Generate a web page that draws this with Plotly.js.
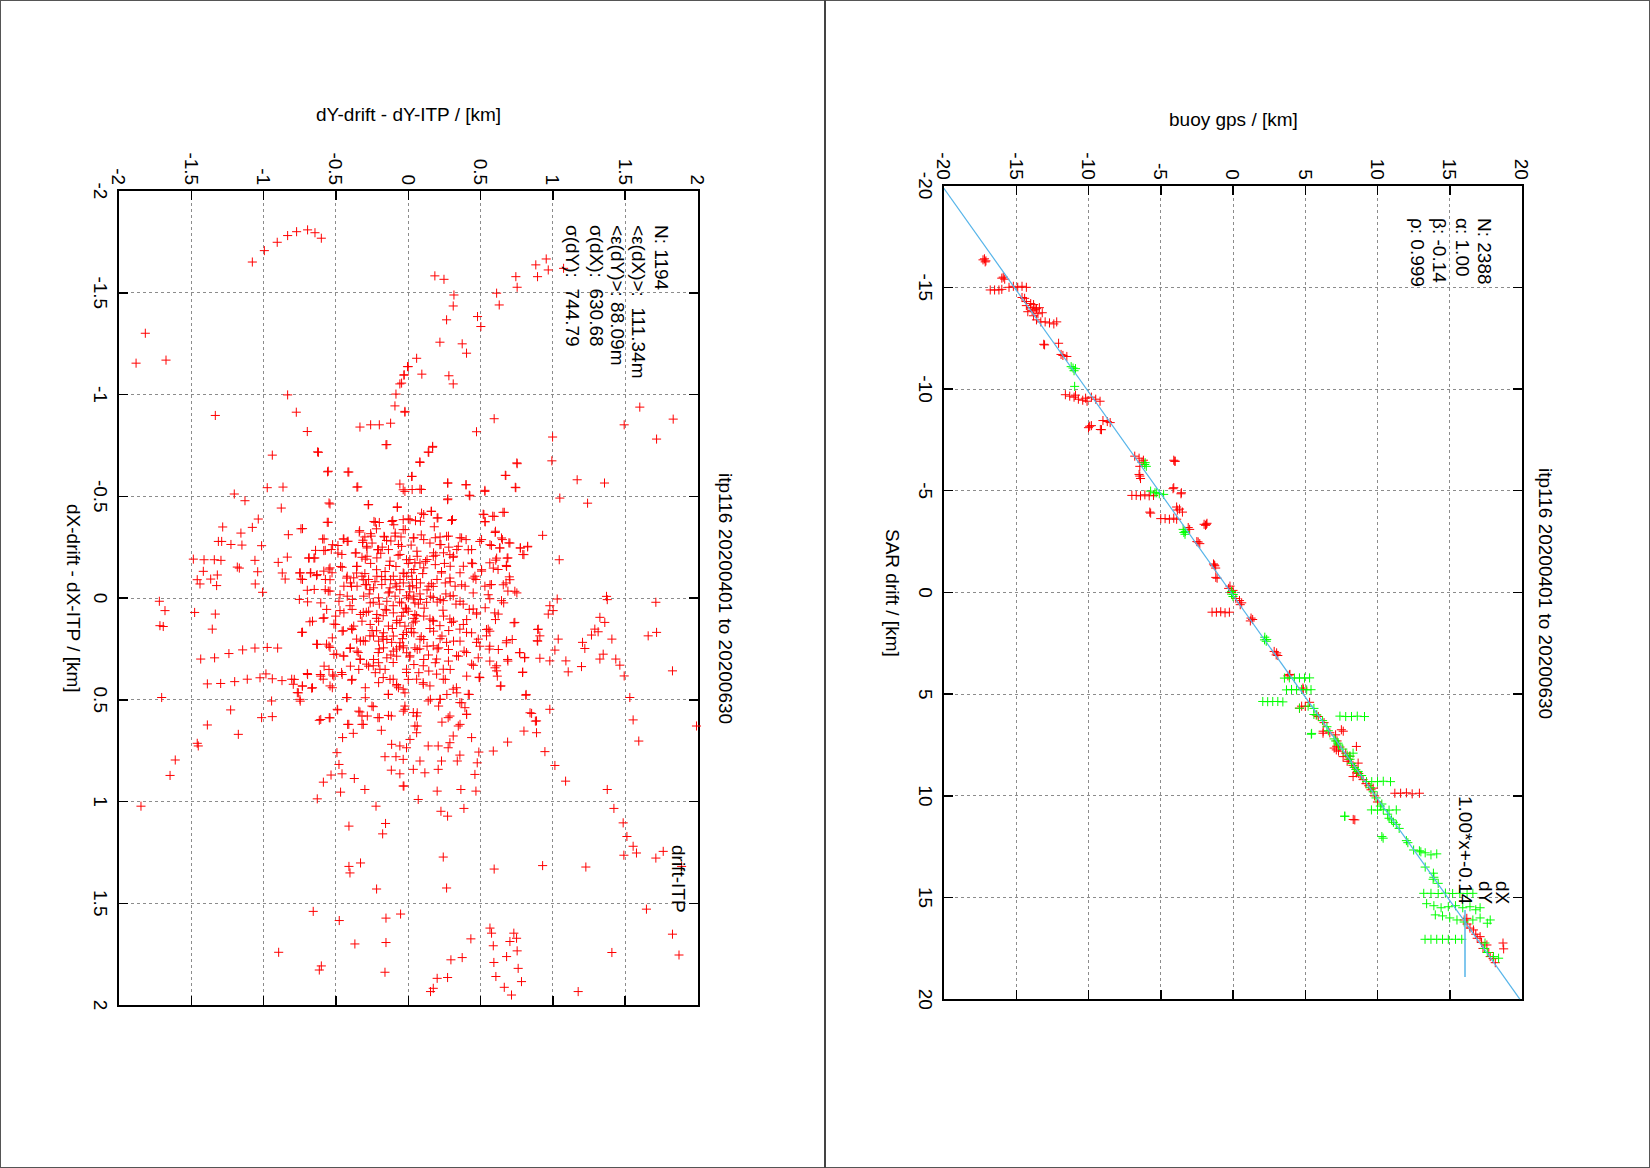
<!DOCTYPE html>
<html><head><meta charset="utf-8">
<script src="https://cdn.plot.ly/plotly-3.0.1.min.js"></script>
<style>
html,body{margin:0;padding:0;background:#fff;width:1650px;height:1168px;overflow:hidden;}
#chart{position:absolute;left:0;top:0;width:1168px;height:1650px;transform-origin:0 0;transform:translate(1650px,0) rotate(90deg);}
</style></head><body><div id="chart"></div>
<script>
// ---------- texts ----------
const chartTitle = 'itp116 20200401 to 20200630';
const fitXLabel = 'SAR drift / [km]';
const fitYLabel = 'buoy gps / [km]';
const errXLabel = 'dX-drift - dX-ITP / [km]';
const errYLabel = 'dY-drift - dY-ITP / [km]';
const fitStats = ['N: 2388', 'α: 1.00', 'β: -0.14', 'ρ: 0.999'];
const errStats = ['N: 1194', '&lt;ε(dX)&gt;:\u00a0\u00a0111.34m', '&lt;ε(dY)&gt;: 88.09m', 'σ(dX):\u00a0\u00a0630.68', 'σ(dY):\u00a0\u00a0744.79'];
const fitLegend = ['dX', 'dY', '1.00*x+-0.14'];
const errLegend = 'drift-ITP';

// ---------- ticks ----------
const sarTicks = [-20, -15, -10, -5, 0, 5, 10, 15, 20];
const sarTickText = ['-20', '-15', '-10', '-5', '0', '5', '10', '15', '20'];
const errTicks = [-2, -1.5, -1, -0.5, 0, 0.5, 1, 1.5, 2];
const errTickText = ['-2', '-1.5', '-1', '-0.5', '0', '0.5', '1', '1.5', '2'];

// ---------- fit ----------
const fitAlpha = 1.00;
const fitBeta = -0.14;
const fitXRange = [-20, 20];

// ---------- right panel data: [SAR drift, buoy gps] ----------
const dXPts = [
[-16.4,-17.2],[-16.3,-17.1],[-16.35,-17.3],[-16.25,-17.15],
[-15.5,-15.9],[-15.4,-15.8],[-15.45,-16.0],
[-14.87,-16.8],[-14.87,-16.5],[-14.87,-16.2],[-14.9,-16.0],
[-15.0,-15.5],[-15.05,-15.2],[-15.0,-14.9],[-15.05,-14.6],[-15.0,-14.3],
[-14.46,-14.42],[-14.5,-14.6],[-14.3,-14.3],
[-14.1,-14.3],[-14.0,-14.0],[-13.9,-13.7],[-13.8,-14.2],[-13.7,-13.5],[-14.0,-13.4],[-13.85,-13.9],[-13.75,-13.2],
[-14.2,-14.0],[-13.95,-13.6],[-13.6,-13.8],[-14.15,-13.8],
[-13.4,-13.6],[-13.3,-13.3],[-13.3,-13.0],[-13.25,-12.7],[-13.2,-12.4],[-13.3,-12.2],
[-12.17,-13.04],[-12.2,-13.1],[-12.25,-12.07],
[-11.65,-11.77],[-11.6,-11.5],[-11.7,-11.9],
[-9.72,-11.6],[-9.65,-11.3],[-9.6,-11.0],[-9.5,-10.7],[-9.45,-10.4],[-9.4,-10.1],[-9.6,-9.8],[-9.5,-9.5],[-9.4,-9.2],[-9.7,-10.9],[-9.55,-10.2],
[-8.17,-9.92],[-8.2,-9.8],[-8.1,-10.0],[-8.01,-9.18],[-8.0,-9.1],
[-8.45,-9.0],[-8.4,-8.7],[-8.35,-8.5],
[-6.7,-6.8],[-6.6,-6.5],[-6.4,-6.3],[-6.2,-6.45],[-6.5,-6.2],
[-5.72,-6.45],[-5.6,-6.4],[-5.8,-6.5],
[-6.45,-4.03],[-6.45,-4.0],[-6.5,-4.1],
[-4.77,-7.0],[-4.77,-6.7],[-4.75,-6.4],[-4.8,-6.1],[-4.75,-5.8],[-4.77,-5.5],
[-5.1,-4.15],[-5.15,-4.1],[-4.9,-3.57],[-4.85,-3.6],
[-4.2,-3.9],[-4.1,-3.7],[-3.95,-3.5],[-4.05,-3.85],
[-3.95,-5.76],[-3.9,-5.7],
[-3.63,-5.0],[-3.63,-4.7],[-3.6,-4.4],[-3.65,-4.1],[-3.6,-3.9],
[-3.35,-1.84],[-3.3,-1.9],[-3.4,-1.8],[-3.35,-2.0],
[-3.19,-3.1],[-3.1,-3.0],
[-2.48,-2.41],[-2.5,-2.5],[-2.4,-2.3],
[-1.31,-1.26],[-1.35,-1.3],[-1.2,-1.2],[-1.4,-1.35],
[-0.74,-1.19],[-0.7,-1.1],
[-0.31,-0.21],[-0.2,-0.3],
[0.51,0.6],[0.4,0.45],[0.6,0.5],[0.3,0.2],[0.0,-0.1],[-0.1,0.0],
[0.97,-1.45],[0.97,-1.15],[0.95,-0.85],[1.0,-0.55],[0.97,-0.25],
[1.33,1.36],[1.26,1.25],[1.4,1.2],
[2.97,3.02],[3.07,2.99],[2.9,2.85],[3.1,3.1],
[4.03,3.94],[4.05,3.91],[4.1,3.8],
[4.7,4.84],[4.77,4.86],
[5.59,4.75],[5.69,4.6],[5.6,5.0],
[6.02,5.76],[6.1,5.9],[5.4,5.3],[6.4,6.3],
[6.75,7.5],[6.82,6.24],[6.92,6.23],[6.82,7.63],[6.9,6.7],[7.0,7.1],
[7.56,7.17],[7.74,7.15],[7.57,8.54],[7.6,7.4],[7.8,7.3],[7.65,7.0],[7.3,7.2],[7.9,7.8],
[8.07,7.62],[8.05,8.09],[8.39,8.66],[8.2,8.0],[8.5,8.3],[8.3,7.9],[8.6,8.4],
[8.87,8.55],[9.05,8.31],[9.0,8.8],[8.8,8.6],[9.2,9.0],[8.9,8.7],[9.4,9.2],
[9.62,9.7],[9.5,9.4],[9.7,9.55],[10.0,9.8],[10.3,10.0],
[9.87,11.2],[9.87,11.6],[9.85,12.0],[9.9,12.4],[9.87,12.9],
[11.18,8.43],[11.16,8.32],
[16.02,16.18],[16.1,16.0],[16.3,16.2],[16.59,16.64],[16.5,16.4],[16.92,17.1],[16.8,16.8],[17.0,16.9],
[17.33,17.57],[17.2,17.2],[17.52,18.73],[18.2,18.15],[17.7,17.7],[17.9,17.8],[18.0,18.0],[17.5,17.3]
];
const dYPts = [
[-11.03,-11.07],[-11.1,-11.2],[-10.9,-11.0],[-11.0,-10.9],
[-10.13,-10.96],
[-6.29,-6.11],[-6.38,-6.08],[-6.2,-6.0],
[-4.98,-5.7],[-4.9,-5.4],[-4.85,-5.1],[-4.82,-4.8],[-4.9,-5.28],
[-3.1,-3.45],[-2.95,-3.4],[-2.86,-3.32],[-3.0,-3.3],
[0.08,-0.1],[0.1,0.02],[-0.05,-0.1],[0.2,0.0],
[2.31,2.33],[2.33,2.18],[2.2,2.2],[2.4,2.3],
[4.21,3.56],[4.2,3.9],[4.21,4.25],[4.2,4.6],[4.21,4.95],[4.2,5.3],
[4.79,3.7],[4.77,4.05],[4.79,4.4],[4.77,4.75],[4.79,5.1],[4.78,5.4],
[5.36,2.06],[5.37,2.4],[5.36,2.75],[5.36,3.1],[5.38,3.45],
[5.59,5.2],[5.69,4.6],[6.02,5.8],[6.0,5.6],[5.7,5.6],
[6.08,7.4],[6.1,7.8],[6.1,8.2],[6.08,8.6],[6.1,9.1],
[6.93,5.44],[6.97,5.42],[6.3,6.2],[6.6,6.5],[6.8,6.6],
[7.41,7.27],[7.3,7.1],[7.2,7.0],[7.7,7.6],[7.5,7.3],
[7.9,8.31],[8.05,8.09],[8.0,7.9],[8.4,8.2],[8.2,8.1],[8.6,8.4],
[8.8,8.66],[8.7,8.5],[9.0,8.9],
[9.3,9.24],[9.3,9.6],[9.3,10.0],[9.28,10.4],[9.3,10.9],[9.6,9.5],[9.8,9.7],
[10.69,9.58],[10.7,10.0],[10.68,10.4],[10.7,10.8],[10.69,11.3],[10.1,9.9],[10.4,10.3],[10.5,10.2],
[11.18,10.97],[11.1,10.8],[11.0,7.73],[11.0,7.74],[10.9,10.7],[11.3,11.1],[11.6,11.5],[11.4,11.3],
[12.08,10.39],[12.0,10.3],[12.3,12.1],[12.2,12.0],
[12.66,12.5],[12.7,12.9],[12.8,13.3],[12.9,13.7],[12.85,14.1],[12.75,13.0],
[13.8,13.87],[14.0,13.9],[14.1,13.85],[13.5,13.3],[14.3,14.2],
[14.79,13.2],[14.79,13.7],[14.8,14.2],[14.78,14.7],[14.8,15.2],[14.79,15.7],[14.8,16.2],[14.79,16.6],
[15.3,13.4],[15.4,13.9],[15.5,14.4],[15.45,14.9],[15.4,15.4],[15.5,15.9],[15.45,16.4],[15.6,16.8],[15.5,17.1],
[15.85,14.0],[15.9,14.5],[16.0,15.0],[16.1,15.5],[16.2,16.0],[16.1,16.6],[16.0,17.1],[16.26,17.6],[16.1,17.8],
[17.05,13.29],[17.05,13.7],[17.05,14.1],[17.05,14.5],[17.05,14.9],[17.05,15.4],[17.05,15.83],
[17.9,18.03],[17.98,18.38],[17.7,17.6],[17.5,17.4]
];

// ---------- left panel data: [dY error, dX error] in km ----------
const errPts = [
[-1.078,-1.651],[-0.995,-1.707],[-0.906,-1.748],[-0.834,-1.781],[-0.772,-1.8],[-0.696,-1.809],[-0.645,-1.795],[-0.601,-1.768],
[-1.818,-1.301],[-1.882,-1.154],[-1.675,-1.169],[-0.834,-0.998],[-1.334,-0.897],[-0.774,-0.913],[-0.698,-0.818],[-0.94,-0.702],
[-0.627,-0.718],[-0.558,-0.62],[-0.417,-0.619],[-0.975,-0.542],[-0.866,-0.545],[-0.355,-0.545],[-1.203,-0.511],[-1.129,-0.478],
[-0.548,-0.467],[-0.277,-0.458],[-0.878,-0.442],[-0.076,-0.445],[-0.058,-0.56],[-0.023,-0.524],[-0.154,-0.753],[-0.122,-0.859],
[-0.334,-0.84],[-0.26,-0.851],[-0.2,-0.851],[-0.023,-0.917],[-0.092,-0.944],[-0.085,-1.002],[-0.058,-1.052],[-0.03,-1.095],[-0.005,-1.137],
[-1.283,-0.349],[-1.037,-0.388],[-1.078,-0.347],[-1.157,-0.319],[-1.313,-0.278],[-1.29,-0.278],[-1.226,-0.263],[-1.15,-0.26],
[-1.014,-0.257],[-0.742,-0.34],[-0.829,-0.311],[-0.56,-0.372],[-0.592,-0.29],[-1.486,-0.191],[-1.412,-0.188],[-1.341,-0.188],
[-1.295,-0.185],[-1.417,-0.131],[-1.32,-0.113],[-1.459,-0.09],[-1.44,-0.069],[-1.366,-0.093],[-1.325,-0.061],[-1.182,-0.152],
[-1.168,-0.147],[-1.06,-0.185],[-1.041,-0.129],[-1.058,-0.069],[-1.007,-0.028],[-0.899,-0.175],[-0.836,-0.201],[-0.871,-0.123],
[-0.851,-0.093],[-0.751,-0.123],[-0.742,-0.093],[-0.698,-0.038],[-0.689,-0.196],[-0.652,-0.196],[-0.677,-0.123],[-0.634,-0.11],
[-0.641,-0.234],[-0.574,-0.234],[-0.548,-0.142],[-0.541,-0.09],[-0.574,-0.041],[-0.523,-0.262],[-0.486,-0.221],[-0.468,-0.155],
[-0.449,-0.29],[-0.422,-0.278],[-0.366,-0.221],[-0.339,-0.324],[-0.316,-0.273],[-0.26,-0.316],[-0.288,-0.254],[-0.297,-0.191],
[-0.237,-0.376],[-0.2,-0.371],[-0.212,-0.237],[-0.168,-0.303],[-0.15,-0.283],[-0.113,-0.376],[-0.09,-0.319],[-0.021,-0.336],
[-0.035,-0.385],[-0.046,-0.254],[-0.357,-0.155],[-0.426,-0.098],[-0.392,-0.057],[-0.311,-0.09],[-0.265,-0.041],[-0.184,-0.105],
[-0.122,-0.09],[-0.085,-0.155],[-0.035,-0.123],[-0.138,-0.025],[-0.058,-0.041],[-0.012,-0.188],[-0.357,-0.123],[-0.219,-0.139],
[-0.288,-0.065],[-0.472,-0.016],
[0.184,-1.583],[0.247,-1.566],[0.316,-1.489],[0.311,-1.435],[0.265,-1.367],[0.219,-1.257],[0.373,-1.249],[0.403,-1.203],
[0.058,-1.178],[0.0,-1.137],[-0.028,-1.097],[-0.046,-1.056],[0.094,-1.1],[0.281,-1.092],[0.311,-1.052],[-0.023,-0.913],
[0.882,-1.637],[0.894,-1.579],[0.744,-1.579],[0.753,-1.527],[0.954,-1.666],[0.968,-1.612],[1.074,-1.62],[0.611,-1.498],
[0.629,-1.44],[0.479,-1.383],[0.502,-1.334],[0.594,-0.881],[0.472,-0.817],[0.998,-0.791],[0.993,-0.674],[0.753,-0.66],
[0.675,-0.602],[0.744,-0.542],[1.168,-0.581],[1.357,-0.565],[1.048,-0.491],[1.24,-0.466],[1.493,-0.851],[1.601,-0.938],
[1.717,-0.781],[1.832,-0.879],[0.168,-0.741],[0.138,-0.717],[0.081,-0.666],[0.023,-0.597],[0.081,-0.535],[-0.035,-0.532],
[0.272,-0.565],[0.272,-0.483],[0.399,-0.556],[0.426,-0.502],[0.53,-0.524],[0.161,-0.426],[0.092,-0.417],[0.012,-0.385],
[0.2,-0.393],[0.299,-0.381],[0.518,-0.412],[0.53,-0.376],[0.594,-0.401],[0.664,-0.421],[0.601,-0.322],[0.645,-0.295],
[0.703,-0.27],[0.634,-0.246],[0.776,-0.246],[0.825,-0.251],[0.8,-0.213],[0.929,-0.308],[1.044,-0.188],[0.495,-0.278],
[0.565,-0.262],[0.415,-0.237],[0.438,-0.172],[0.611,-0.196],[0.684,-0.196],[0.68,-0.155],[0.507,-0.139],[0.588,-0.147],
[0.369,-0.295],[0.346,-0.254],[0.265,-0.303],[0.219,-0.262],[0.288,-0.213],[0.173,-0.205],[0.081,-0.172],[0.035,-0.295],
[-0.035,-0.336],[0.703,-0.09],[0.737,-0.033],[0.657,-0.065],[0.565,-0.065],[0.449,-0.098],[0.369,-0.065],[0.288,-0.098],
[0.23,-0.123],[0.449,-0.025],[0.553,-0.016],[0.173,-0.057],[1.371,-0.008],
[-1.721,0.016],[-1.682,0.062],[-1.477,0.071],[-1.334,0.079],[-1.717,0.136],[-1.694,0.14],[-1.355,0.153],[-1.435,0.3],
[-1.339,0.294],[-1.24,0.273],[-1.145,0.255],[-1.06,0.246],[-0.975,0.243],[-0.903,0.246],[-1.389,0.422],[-1.297,0.42],
[-1.2,0.411],[-1.113,0.399],[-1.025,0.392],[-0.984,0.373],[-0.94,0.397],[-0.873,0.406],[-0.806,0.399],[-0.795,0.424],
[-0.767,0.465],[-0.749,0.498],[-0.733,0.432],[-0.668,0.443],[-0.698,0.371],[-0.608,0.376],[-0.588,0.399],[-0.541,0.432],
[-0.523,0.378],[-0.461,0.366],[-0.392,0.404],[-1.705,0.489],[-0.945,0.506],[-1.228,0.55],[-1.014,0.588],[-0.94,0.583],
[-1.389,0.624],[-1.175,0.67],[-1.459,0.714],[-1.452,0.727],[-1.611,0.796],[-1.647,0.872],[-1.848,1.023],[-0.615,0.601],
[-0.546,0.588],[-0.488,0.55],[-0.426,0.489],[-0.419,0.621],[-0.38,0.665],[-0.454,0.686],[-0.334,0.56],[-0.311,0.621],
[-0.283,0.58],[-0.242,0.534],[-0.2,0.588],[-0.186,0.65],[-0.117,0.58],[-0.115,0.719],[-0.058,0.727],[-0.161,0.78],
[-0.085,0.78],[-0.035,0.793],[-0.117,0.846],[-0.058,0.864],[-0.035,0.924],[-0.493,0.76],[-0.479,0.818],[-0.458,0.864],
[-0.534,0.87],[-0.587,0.905],[-0.373,0.887],[-0.3,0.941],[-0.468,0.954],[-0.629,0.987],[-0.223,1.023],[-0.41,1.121],
[-0.157,1.108],[-0.177,1.159],[-0.41,1.319],[-0.403,1.351],[-0.33,1.302],[-0.219,1.43],[-0.657,1.54],[-0.477,1.585],
[-0.154,1.573],[-0.053,1.553],[-0.369,1.7],[-0.154,1.693],[-0.896,1.741],[-0.615,1.828],[-0.601,1.808],[-0.161,1.839],
[-0.68,0.117],[-0.588,0.1],[-0.514,0.128],[-0.449,0.161],[-0.392,0.149],[-0.357,0.202],[-0.311,0.21],[-0.265,0.186],
[-0.219,0.161],[-0.173,0.202],[-0.115,0.218],[-0.081,0.251],[-0.035,0.235],[-0.334,0.3],[-0.288,0.325],[-0.242,0.333],
[-0.196,0.35],[-0.173,0.391],[-0.104,0.399],[-0.081,0.432],[-0.035,0.448],[-0.138,0.473],[-0.403,0.248],[-0.346,0.268],
[-0.449,0.284],[-0.541,0.243],[-0.495,0.276],[-0.472,0.062],[-0.403,0.038],[-0.311,0.071],[-0.242,0.021],[-0.173,0.087],
[-0.104,0.038],[-0.058,0.12],[-0.012,0.054],[-0.634,0.227],[-0.565,0.227],[-0.737,0.169],[-0.207,0.268],[-0.012,0.35],[-0.104,0.317],
[1.03,0.005],[1.376,0.008],[1.712,0.021],[0.979,0.038],[1.002,0.062],[0.968,0.079],[1.325,0.095],[1.359,0.12],
[1.29,0.153],[1.313,0.166],[1.267,0.182],[1.408,0.202],[1.205,0.218],[1.221,0.248],[1.659,0.186],[1.717,0.169],
[0.899,0.153],[0.91,0.186],[0.892,0.21],[1.037,0.202],[1.014,0.256],[0.979,0.309],[0.91,0.296],[1.09,0.309],
[1.106,0.363],[1.198,0.337],[1.325,0.3],[1.348,0.276],[1.435,0.3],[1.463,0.33],[1.493,0.383],[1.827,0.358],
[1.532,0.489],[1.555,0.599],[1.594,0.703],[1.993,0.629],[1.376,0.941],[1.422,1.034],[1.486,1.105],[1.512,1.172],
[1.555,1.22],[1.578,1.253],[1.491,1.264],[1.712,1.278],[1.763,1.245],[1.89,1.319],[1.647,1.529],[1.827,1.652],
[1.408,1.742],[1.175,1.934],[1.228,1.322],[0.929,1.315],[0.594,1.332],[0.242,1.273],[0.265,1.425],[0.226,1.048],
[0.272,1.072],[0.385,1.034],[0.069,0.99],[0.468,0.949],[0.364,0.941],[0.2,0.949],[1.014,0.823],[1.088,0.9],
[0.945,0.755],[0.979,0.547],[0.853,0.567],[0.887,0.604],[0.887,0.662],[0.8,0.654],[0.813,0.478],[0.687,0.708],
[0.588,0.752],[0.641,0.432],[0.491,0.391],[0.611,0.358],[0.611,0.333],[0.687,0.302],[0.79,0.366],[0.772,0.268],
[0.806,0.292],[0.737,0.12],[0.645,0.013],[0.553,0.153],[0.622,0.079],[0.68,0.21],[0.56,0.251],[0.484,0.202],
[0.438,0.325],[0.495,0.391],[0.415,0.473],[0.392,0.539],[0.403,0.571],[0.438,0.686],[0.488,0.757],[0.477,0.81],
[0.461,0.867],[0.357,0.772],[0.339,0.801],[0.311,0.678],[0.288,0.711],[0.276,0.736],[0.23,0.801],[0.207,0.842],
[0.115,0.859],[0.081,0.801],[0.035,0.842],[-0.03,0.924],[0.138,0.727],[0.207,0.727],[0.046,0.629],[0.058,0.662],
[0.012,0.695],[0.276,0.588],[0.346,0.629],[0.138,0.506],[0.219,0.498],[0.357,0.514],[0.311,0.448],[0.242,0.399],
[0.196,0.374],[0.104,0.424],[0.035,0.563],[-0.023,0.547],[-0.012,0.736],
[0.565,1.622],[0.576,1.647],[0.588,1.709],[0.592,1.791],[0.606,1.86],[0.664,1.913],[0.714,1.951],[0.73,1.647],
[0.749,1.672],[0.703,1.688],[0.753,1.734],[0.68,1.762],[0.76,1.82],[0.783,1.885],[0.433,1.675],[0.373,1.767],
[0.295,1.778],[0.272,1.865],[0.2,1.869],[0.173,1.918],[0.154,1.934],
[-0.012,-0.011],[0.035,0.005],[0.081,-0.02],[0.127,0.021],[0.173,-0.003],[0.242,0.013],[0.311,-0.011],[0.38,0.03],
[0.449,0.054],[-0.035,0.071],[0.058,0.087],[0.15,0.103],[0.219,0.136],[0.288,0.103],[0.357,0.153],[0.403,0.169],
[0.472,0.079],[0.541,0.186],[-0.012,0.169],[0.081,0.202],[0.173,0.235],[0.265,0.218],[0.334,0.284],[0.012,0.284],
[0.104,0.333],[0.196,0.3],[0.242,0.35],[0.058,0.399],[0.15,0.432],[-0.012,0.366],[0.403,0.268],[0.472,0.218],
[-0.148,-0.754],[-0.621,-0.716],[-0.553,-0.623],[-0.411,-0.619],[-0.349,-0.546],[0.027,-0.533],[-0.541,-0.462],[-0.274,-0.459],
[-0.075,-0.448],[-0.553,-0.372],[-0.731,-0.341],[-0.228,-0.372],[-0.107,-0.381],[0.0,-0.389],[-0.336,-0.331],[-0.582,-0.29],
[-0.445,-0.29],[-0.416,-0.279],[-0.313,-0.284],[-0.256,-0.304],[-0.164,-0.3],[-0.091,-0.304],[-0.486,-0.258],[-0.532,-0.238],
[-0.584,-0.233],[-0.285,-0.246],[-0.205,-0.238],[-0.137,-0.238],[-0.068,-0.263],[-0.459,-0.214],[-0.361,-0.222],[-0.285,-0.205],
[-0.685,-0.197],[-0.646,-0.197],[-0.217,-0.197],[-0.126,-0.181],[-0.057,-0.214],[0.011,-0.189],[0.046,-0.173],[-0.541,-0.148],
[-0.457,-0.151],[-0.354,-0.156],[-0.747,-0.124],[-0.674,-0.124],[-0.63,-0.115],[-0.584,-0.132],[-0.527,-0.124],[-0.422,-0.107],
[-0.377,-0.099],[-0.32,-0.107],[-0.274,-0.091],[-0.217,-0.107],[-0.16,-0.091],[-0.103,-0.107],[-0.057,-0.091],[-0.011,-0.107],
[0.023,-0.124],[0.057,-0.091],[-0.731,-0.091],[-0.573,-0.091],[-0.65,-0.042],[-0.553,-0.034],[-0.445,-0.058],[-0.4,-0.074],
[-0.354,-0.058],[-0.297,-0.066],[-0.24,-0.05],[-0.183,-0.066],[-0.126,-0.05],[-0.08,-0.058],[-0.034,-0.074],[0.011,-0.058],
[0.057,-0.05],[-0.753,0.007],[-0.696,0.019],[-0.605,0.024],[-0.541,-0.034],[-0.479,0.016],[-0.422,-0.009],[-0.386,0.007],
[-0.308,-0.009],[-0.263,0.024],[-0.205,-0.001],[-0.148,0.016],[-0.091,-0.009],[-0.046,0.024],[0.0,-0.001],[0.046,0.024],
[-0.564,0.056],[-0.502,0.089],[-0.445,0.073],[-0.388,0.056],[-0.331,0.081],[-0.274,0.065],[-0.217,0.081],[-0.16,0.056],
[-0.103,0.073],[-0.046,0.089],[0.0,0.065],[0.046,0.081],[-0.662,0.114],[-0.582,0.097],[-0.502,0.13],[-0.377,0.138],
[-0.32,0.114],[-0.263,0.13],[-0.205,0.114],[-0.137,0.138],[-0.08,0.122],[-0.023,0.138],[0.034,0.122],[-0.731,0.168],
[-0.457,0.163],[-0.388,0.155],[-0.24,0.187],[-0.171,0.171],[-0.103,0.187],[-0.034,0.179],[0.023,0.168],[-0.525,0.196],
[-0.331,0.212],[-0.205,0.212],[-0.148,0.204],[-0.057,0.22],[-0.628,0.228],[-0.548,0.236],[-0.4,0.245],[-0.354,0.261],
[-0.297,0.212],[-0.171,0.245],[-0.103,0.261],[-0.034,0.245],[0.046,0.245],[-0.514,0.277],[-0.445,0.286],[-0.331,0.302],
[-0.24,0.302],[-0.148,0.294],[-0.08,0.286],[-0.011,0.269],[-0.582,0.335],[-0.548,0.351],[-0.4,0.335],[-0.342,0.351],
[-0.274,0.335],[-0.205,0.318],[-0.16,0.351],[-0.228,0.367],[-0.788,0.4],[-0.696,0.376],[-0.605,0.384],[-0.514,0.384],
[-0.457,0.376],[-0.388,0.4],[-0.205,0.416],[-0.126,0.4],[-0.08,0.425],[-0.731,0.433],[-0.662,0.441],[-0.525,0.441],
[-0.76,0.466],[-0.297,0.441],[-0.137,0.474],[-0.068,0.441],[0.0,0.4],[-0.023,0.466],[-0.423,0.49],[-0.297,0.49],
[-0.747,0.507],[-0.491,0.547],[-0.251,0.531],[-0.342,0.556],[-0.32,0.58],[-0.21,0.588],[-0.137,0.577],[-0.034,0.556],
[-0.023,0.531],[-0.605,0.597],[-0.541,0.589],[-0.411,0.621],[-0.32,0.621],[0.057,0.58],
[0.169,-0.745],[0.142,-0.716],[0.08,-0.669],[0.751,-0.664],[0.671,-0.603],[0.74,-0.544],[0.274,-0.565],[0.4,-0.557],
[0.422,-0.505],[0.53,-0.529],[0.091,-0.533],[0.274,-0.487],[0.027,-0.598],[0.107,-0.41],[0.158,-0.426],[0.205,-0.394],
[0.306,-0.385],[0.523,-0.41],[0.584,-0.402],[0.655,-0.421],[0.532,-0.374],[0.603,-0.328],[0.651,-0.287],[0.696,-0.271],
[0.632,-0.246],[0.507,-0.287],[0.575,-0.258],[0.084,-0.377],[0.278,-0.304],[0.358,-0.296],[0.4,-0.287],[0.187,-0.296],
[0.226,-0.263],[0.107,-0.287],[0.039,-0.296],[0.774,-0.246],[0.826,-0.254],[0.792,-0.214],[0.689,-0.197],[0.605,-0.186],
[0.564,-0.173],[0.678,-0.16],[0.621,-0.14],[0.445,-0.169],[0.381,-0.156],[0.313,-0.205],[0.336,-0.238],[0.438,-0.238],
[0.244,-0.222],[0.175,-0.222],[0.13,-0.189],[0.062,-0.205],[0.29,-0.156],[0.187,-0.164],[0.107,-0.148],[0.039,-0.14],
[0.358,-0.124],[0.461,-0.107],[0.507,-0.132],[0.699,-0.104],[0.676,-0.074],[0.575,-0.066],[0.53,-0.058],[0.468,-0.091],
[0.393,-0.058],[0.324,-0.058],[0.256,-0.074],[0.199,-0.091],[0.142,-0.058],[0.084,-0.074],[0.027,-0.091],[0.689,-0.034],
[0.751,-0.025],[0.564,0.004],[0.66,0.024],[0.532,0.048],[0.473,0.073],[0.422,0.056],[0.358,0.016],[0.29,-0.009],
[0.221,0.007],[0.153,-0.009],[0.084,0.007],[0.039,-0.009],[0.404,0.106],[0.381,0.13],[0.313,0.114],[0.244,0.089],
[0.175,0.114],[0.107,0.089],[0.05,0.114],[0.598,0.073],[0.603,0.106],[0.731,0.122],[0.564,0.163],[0.541,0.155],
[0.438,0.171],[0.358,0.212],[0.313,0.212],[0.233,0.187],[0.175,0.163],[0.107,0.204],[0.039,0.171],[0.895,0.155],
[0.895,0.212],[0.719,0.204],[0.678,0.22],[0.564,0.237],[0.495,0.237],[0.623,0.253],[0.386,0.261],[0.278,0.253],
[0.21,0.245],[0.13,0.237],[0.062,0.253],[0.769,0.269],[0.804,0.294],[0.689,0.31],[0.564,0.31],[0.484,0.294],
[0.347,0.286],[0.278,0.31],[0.187,0.318],[0.107,0.302],[0.039,0.327],[0.45,0.331],[0.6,0.343],[0.616,0.384],
[0.792,0.364],[0.491,0.389],[0.404,0.384],[0.29,0.351],[0.256,0.4],[0.142,0.359],[0.073,0.367],[0.103,0.416],
[0.637,0.433],[0.815,0.474],[0.422,0.474],[0.333,0.441],[0.336,0.466],[0.267,0.474],[0.153,0.498],[0.221,0.498],
[0.37,0.515],[0.21,0.531],[0.404,0.572],[0.288,0.58],[0.233,0.61],[0.062,0.564],[0.062,0.629],[0.358,0.621],
[0.842,0.564],[0.879,0.605],
[-0.3,-0.3],[-0.25,-0.27],[-0.18,-0.25],[-0.12,-0.28],[-0.05,-0.3],[0.02,-0.26],[0.09,-0.31],[0.15,-0.27],[0.22,-0.3],[0.28,-0.25],
[-0.32,-0.2],[-0.26,-0.17],[-0.19,-0.22],[-0.13,-0.16],[-0.07,-0.21],[0.0,-0.17],[0.06,-0.23],[0.12,-0.18],[0.19,-0.21],[0.25,-0.17],[0.31,-0.2],
[-0.3,-0.12],[-0.23,-0.08],[-0.16,-0.13],[-0.09,-0.07],[-0.03,-0.12],[0.03,-0.06],[0.1,-0.12],[0.16,-0.07],[0.23,-0.13],[0.29,-0.08],
[-0.27,-0.02],[-0.2,0.03],[-0.13,-0.03],[-0.06,0.02],[0.01,-0.03],[0.07,0.03],[0.13,-0.04],[0.2,0.02],[0.26,-0.02],[0.33,0.03],
[-0.29,0.07],[-0.22,0.1],[-0.15,0.06],[-0.08,0.11],[-0.02,0.05],[0.04,0.1],[0.11,0.05],[0.17,0.11],[0.24,0.06],[0.3,0.12],
[-0.25,0.16],[-0.18,0.19],[-0.11,0.15],[-0.04,0.2],[0.02,0.15],[0.09,0.19],[0.15,0.15],[0.22,0.2],[0.28,0.16],
[-0.2,0.25],[-0.12,0.28],[-0.06,0.24],[0.01,0.29],[0.08,0.25],[0.14,0.28],[0.2,0.25],
[-0.1,-0.36],[0.05,-0.38],[0.18,-0.35],[-0.22,-0.34]
];

// ---------- figure (drawn unrotated, page is turned 90° like the gnuplot output) ----------
const W = 1168, H = 1650;
const FONT = {family: '"Liberation Sans", Arial, Helvetica, sans-serif', size: 19, color: '#000'};
const axBase = {
  showgrid: true, gridcolor: '#8c8c8c', griddash: 'dot', gridwidth: 1, zeroline: false,
  showline: true, linecolor: '#000', linewidth: 2, mirror: 'ticks',
  ticks: 'inside', ticklen: 9, tickwidth: 1.5, tickcolor: '#000',
  tickfont: FONT, automargin: false, fixedrange: true, layer: 'below traces'
};
const mk = (c) => ({symbol: 'cross-thin-open', size: 6.5, color: c, line: {color: c, width: 1}});

const traces = [
  {type: 'scatter', mode: 'markers', x: dXPts.map(p => p[0]), y: dXPts.map(p => p[1]), xaxis: 'x', yaxis: 'y',
   marker: mk('#ff0000'), cliponaxis: false, hoverinfo: 'skip'},
  {type: 'scatter', mode: 'markers', x: dYPts.map(p => p[0]), y: dYPts.map(p => p[1]), xaxis: 'x', yaxis: 'y',
   marker: mk('#00ff00'), cliponaxis: false, hoverinfo: 'skip'},
  {type: 'scatter', mode: 'lines', x: fitXRange, y: fitXRange.map(v => fitAlpha * v + fitBeta), xaxis: 'x', yaxis: 'y',
   line: {color: '#56b4e9', width: 1.2}, hoverinfo: 'skip'},
  {type: 'scatter', mode: 'markers', x: errPts.map(p => p[1]), y: errPts.map(p => p[0]), xaxis: 'x2', yaxis: 'y2',
   marker: mk('#ff0000'), cliponaxis: false, hoverinfo: 'skip'}
];

const ann = (x, y, text, o = {}) => Object.assign({xref: 'paper', yref: 'paper', x: x, y: y, text: text,
  showarrow: false, font: FONT, xanchor: 'center', yanchor: 'middle'}, o);
// u: position along the unrotated horizontal (= picture top→bottom); X: picture left→right
const U = u => u / W, X = x => x / H;

const annotations = [
  ann(U(593), X(1545), chartTitle),
  ann(U(598), X(726), chartTitle),
  ann(U(593), X(892), fitXLabel),
  ann(U(120), X(1233), fitYLabel, {textangle: -90}),
  ann(U(598), X(74), errXLabel),
  ann(U(114), X(408), errYLabel, {textangle: -90})
];
const fitStatX = [1484, 1462, 1440, 1418];
fitStats.forEach((t, i) => annotations.push(ann(U(216), X(fitStatX[i]), t, {xanchor: 'left'})));
const errStatX = [662, 639, 618, 597, 573];
errStats.forEach((t, i) => annotations.push(ann(U(223), X(errStatX[i]), t, {xanchor: 'left'})));
const fitLegX = [1503, 1485, 1465];
fitLegend.forEach((t, i) => annotations.push(ann(U(907), X(fitLegX[i]), t, {xanchor: 'right'})));
annotations.push(ann(U(915), X(679), errLegend, {xanchor: 'right'}));

const plusShapes = (u, x, c) => {
  const d = 4.5;
  return [
    {type: 'line', xref: 'paper', yref: 'paper', x0: U(u - d), x1: U(u + d), y0: X(x), y1: X(x), line: {color: c, width: 1}},
    {type: 'line', xref: 'paper', yref: 'paper', x0: U(u), x1: U(u), y0: X(x - d), y1: X(x + d), line: {color: c, width: 1}}
  ];
};
const shapes = [
  {type: 'rect', xref: 'paper', yref: 'paper', x0: 0, x1: 1, y0: 0, y1: 1, line: {color: '#555', width: 2}, layer: 'above'},
  {type: 'line', xref: 'paper', yref: 'paper', x0: 0, x1: 1, y0: 0.5, y1: 0.5, line: {color: '#444', width: 2}},
  {type: 'line', xref: 'paper', yref: 'paper', x0: U(910), x1: U(977), y0: X(1465), y1: X(1465), line: {color: '#56b4e9', width: 1.5}},
  ...plusShapes(943, 1503, '#ff0000'),
  ...plusShapes(943, 1485, '#00ff00'),
  ...plusShapes(955, 679, '#ff0000')
];

const layout = {
  width: W, height: H, margin: {l: 0, r: 0, t: 0, b: 0, pad: 0},
  paper_bgcolor: '#fff', plot_bgcolor: '#fff', showlegend: false, font: FONT,
  xaxis: Object.assign({}, axBase, {domain: [185.6 / W, 999.3 / W], range: [-20, 20], tickvals: sarTicks, ticktext: sarTickText, anchor: 'y'}),
  yaxis: Object.assign({}, axBase, {domain: [944 / H, 1522 / H], range: [-20, 20], tickvals: sarTicks, ticktext: sarTickText, anchor: 'x'}),
  xaxis2: Object.assign({}, axBase, {domain: [191 / W, 1005 / W], range: [-2, 2], tickvals: errTicks, ticktext: errTickText, anchor: 'y2'}),
  yaxis2: Object.assign({}, axBase, {domain: [119 / H, 697.5 / H], range: [-2, 2], tickvals: errTicks, ticktext: errTickText, anchor: 'x2'}),
  annotations: annotations, shapes: shapes
};
Plotly.newPlot('chart', traces, layout, {staticPlot: true, displayModeBar: false});
</script></body></html>
